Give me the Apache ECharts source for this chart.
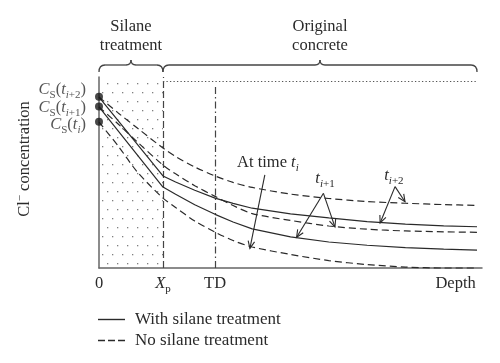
<!DOCTYPE html>
<html><head><meta charset="utf-8">
<script src="https://cdn.jsdelivr.net/npm/echarts@6/dist/echarts.min.js"></script>
<style>html,body{margin:0;padding:0;background:#fff}#c{width:500px;height:363px}</style>
</head><body><div id="c"></div>
<script>
// ---------- data (schematic) ----------
const depthDashed = [0, 5, 10, 16.7, 20, 25, 30.3, 35, 40, 50, 60, 70, 80, 90, 98.7];
const noSilaneTi2 = [89.5, 81.2, 73.3, 62.8, 58.4, 52.9, 48.2, 44.8, 42.2, 38.7, 36.4, 34.8, 33.9, 33.2, 32.8];
const noSilaneTi1 = [84.3, 75.4, 66.0, 53.9, 49.3, 43.1, 37.5, 32.7, 28.5, 24.9, 22.0, 20.3, 19.4, 18.95, 18.7];
const noSilaneTi  = [76.4, 63.9, 50.3, 36.6, 31.7, 24.6, 18.8, 14.4, 11.0, 7.1, 3.9, 1.8, 0.5, 0, 0];

const depthSolid = [0, 16.7, 20, 25, 30.3, 35, 40, 50, 60, 70, 80, 90, 98.7];
const withSilaneTi2 = [89.5, 48.2, 45.0, 40.7, 36.6, 33.8, 31.3, 28.3, 26.2, 24.3, 23.0, 22.1, 21.6];
const withSilaneTi1 = [84.3, 42.4, 38.6, 33.1, 28.1, 24.1, 20.5, 16.3, 13.6, 11.9, 10.7, 9.9, 9.4];

const surfaceValues = [89.6, 84.5, 76.6];
const surfaceLabels = ['{it|C}{sub|S}({it|t}{subit|i}{sub|+2})', '{it|C}{sub|S}({it|t}{subit|i}{sub|+1})', '{it|C}{sub|S}({it|t}{subit|i})'];

const Xp = 16.7, TD = 30.3, depthEnd = 98.7, topLevel = 98, tdTop = 94.8;
const tickPositions = [0, Xp, TD, 93.1];
const tickLabels = ['0', '{it|X}{sub|p}', 'TD', 'Depth'];

// ---------- styles ----------
const FONT = "'Liberation Serif','DejaVu Serif',serif";
const INK = '#2a2a2a', AX = '#666';
const DASH = [7, 4];
const FS = 16.5;
const rich = {
  it: {fontStyle: 'italic', fontFamily: FONT, fontSize: FS, lineHeight: 22, color: INK},
  sub: {fontFamily: FONT, fontSize: 11, lineHeight: 12, verticalAlign: 'bottom', color: INK},
  subit: {fontFamily: FONT, fontStyle: 'italic', fontSize: 11, lineHeight: 12, verticalAlign: 'bottom', color: INK},
  sup: {fontFamily: FONT, fontSize: 11, lineHeight: 12, verticalAlign: 'top', color: INK}
};
const labelShift = [[0, -7], [0, 1], [0, 3]];

const pat = document.createElement('canvas');
pat.width = 10; pat.height = 18;
const g2d = pat.getContext('2d');
g2d.fillStyle = '#808080';
g2d.fillRect(2, 2, 1.3, 1.3);
g2d.fillRect(7, 11, 1.3, 1.3);

const toXY = (xs, ys) => xs.map((x, i) => [x, ys[i]]);
const solid = (name, xs, ys) => ({type: 'line', name, data: toXY(xs, ys), symbol: 'none', showSymbol: false, clip: false,
  lineStyle: {color: INK, width: 1.2, type: 'solid'}, itemStyle: {color: INK}, z: 5});
const dashed = (name, xs, ys) => ({type: 'line', name, data: toXY(xs, ys), symbol: 'none', showSymbol: false, clip: false, smooth: 0.3,
  lineStyle: {color: INK, width: 1.2, type: DASH}, itemStyle: {color: INK}, z: 5});

const chart = echarts.init(document.getElementById('c'));
chart.setOption({
  animation: false,
  backgroundColor: '#fff',
  grid: {left: 99, right: 18, top: 77, bottom: 95},
  xAxis: {type: 'value', min: 0, max: 100,
    axisLine: {show: true, onZero: false, lineStyle: {color: AX, width: 1.5}},
    axisTick: {show: false}, splitLine: {show: false},
    axisLabel: {customValues: tickPositions, margin: 5, fontFamily: FONT, fontSize: FS, color: INK, lineHeight: 22, rich,
      formatter: v => { const i = tickPositions.indexOf(v); return i >= 0 ? tickLabels[i] : ''; }}},
  yAxis: {type: 'value', min: 0, max: 100,
    axisLine: {show: true, lineStyle: {color: AX, width: 1.5}},
    axisTick: {show: false}, splitLine: {show: false}, axisLabel: {show: false}},
  legend: {orient: 'vertical', left: 98, top: 311, padding: 0, itemWidth: 27, itemHeight: 1.4, itemGap: 4,
    data: [
      {name: 'With silane treatment', icon: 'rect'},
      {name: 'No silane treatment', icon: 'path://M0,0h7v1.4h-7z M10,0h7v1.4h-7z M20,0h7v1.4h-7z'}],
    itemStyle: {color: INK},
    textStyle: {fontFamily: FONT, fontSize: 17, color: INK, lineHeight: 17, padding: [0, 0, 0, 5]}},
  series: [
    {type: 'line', name: 'frame', data: [], silent: true,
      markArea: {silent: true, itemStyle: {color: {image: pat, repeat: 'repeat'}},
        data: [[{coord: [0, 0]}, {coord: [Xp, 99]}]]},
      markLine: {silent: true, symbol: 'none', label: {show: false},
        data: [
          [{coord: [Xp, 0], lineStyle: {type: [7, 3], color: '#444', width: 1.2}}, {coord: [Xp, 100]}],
          [{coord: [TD, 0], lineStyle: {type: [7, 3, 1.5, 3], color: '#444', width: 1.2}}, {coord: [TD, tdTop]}],
          [{coord: [Xp, topLevel], lineStyle: {type: [1.3, 2.2], color: '#555', width: 1.2}}, {coord: [depthEnd, topLevel]}]
        ]}},
    solid('With silane treatment', depthSolid, withSilaneTi2),
    solid('With silane treatment', depthSolid, withSilaneTi1),
    dashed('No silane treatment', depthDashed, noSilaneTi2),
    dashed('No silane treatment', depthDashed, noSilaneTi1),
    dashed('No silane treatment', depthDashed, noSilaneTi),
    {type: 'scatter', name: 'surface', clip: false, symbolSize: 8, itemStyle: {color: '#1a1a1a'}, z: 6,
      data: surfaceValues.map((v, i) => ({value: [0, v],
        label: {show: true, position: 'left', distance: 9, offset: labelShift[i], formatter: surfaceLabels[i],
          fontFamily: FONT, fontSize: FS, lineHeight: 22, color: INK, rich}}))}
  ]
});

// ---------- annotations (anchored in data coordinates) ----------
const braces = [[0, Xp, ['Silane', 'treatment']], [Xp, depthEnd, ['Original', 'concrete']]];
const arrows = [
  {text: 'At time {it|t}{subit|i}', at: [44.1, 55.0], from: [43.3, 48.7], to: [[39.4, 10.3]]},
  {text: '{it|t}{subit|i}{sub|+1}', at: [59.0, 46.6], from: [58.6, 39.1], to: [[51.6, 16.1], [61.6, 21.5]]},
  {text: '{it|t}{subit|i}{sub|+2}', at: [77.0, 48.2], from: [77.3, 42.6], to: [[73.4, 23.6], [79.9, 34.7]]}
];
const P = p => chart.convertToPixel({gridIndex: 0}, p);
const gfx = [];
const gTop = P([0, 100])[1];
const ink = {stroke: '#444', lineWidth: 1.3, fill: null};
braces.forEach(([a, b, words]) => {
  const x0 = P([a, 0])[0], x1 = P([b, 0])[0], xm = (x0 + x1) / 2;
  const yb = gTop - 12, yt = yb - 5, ye = yb + 7;
  gfx.push({type: 'bezierCurve', shape: {x1: x0, y1: ye, cpx1: x0, cpy1: yb, x2: x0 + 6, y2: yb}, style: ink});
  gfx.push({type: 'line', shape: {x1: x0 + 6, y1: yb, x2: xm - 5, y2: yb}, style: ink});
  gfx.push({type: 'bezierCurve', shape: {x1: xm - 5, y1: yb, cpx1: xm, cpy1: yb, x2: xm, y2: yt}, style: ink});
  gfx.push({type: 'bezierCurve', shape: {x1: xm, y1: yt, cpx1: xm, cpy1: yb, x2: xm + 5, y2: yb}, style: ink});
  gfx.push({type: 'line', shape: {x1: xm + 5, y1: yb, x2: x1 - 6, y2: yb}, style: ink});
  gfx.push({type: 'bezierCurve', shape: {x1: x1 - 6, y1: yb, cpx1: x1, cpy1: yb, x2: x1, y2: ye}, style: ink});
  words.forEach((w, k) => gfx.push({type: 'text', x: xm, y: yb - 38 + k * 19,
    style: {text: w, fontFamily: FONT, fontSize: FS, fill: INK, align: 'center', verticalAlign: 'middle'}}));
});
arrows.forEach(a => {
  const [lx, ly] = P(a.at);
  gfx.push({type: 'text', x: lx, y: ly, style: {text: a.text, fontFamily: FONT, fontSize: FS, fill: INK,
    align: 'center', verticalAlign: 'middle', lineHeight: 22, rich}});
  const f = P(a.from);
  a.to.forEach(t => {
    const p = P(t);
    const ang = Math.atan2(p[1] - f[1], p[0] - f[0]);
    const L = 8, w = 0.42;
    const h1 = [p[0] - L * Math.cos(ang - w), p[1] - L * Math.sin(ang - w)];
    const h2 = [p[0] - L * Math.cos(ang + w), p[1] - L * Math.sin(ang + w)];
    gfx.push({type: 'polyline', shape: {points: [f, p]}, style: {stroke: INK, lineWidth: 1.1, fill: null}, z: 10});
    gfx.push({type: 'polyline', shape: {points: [h1, p, h2]}, style: {stroke: INK, lineWidth: 1.1, fill: null}, z: 10});
  });
});
gfx.push({type: 'text', x: 25, y: 159, rotation: Math.PI / 2,
  style: {text: 'Cl{sup|−} concentration', fontFamily: FONT, fontSize: FS, fill: INK, align: 'center', verticalAlign: 'middle', lineHeight: 20, rich}});
chart.setOption({graphic: gfx});
</script></body></html>
